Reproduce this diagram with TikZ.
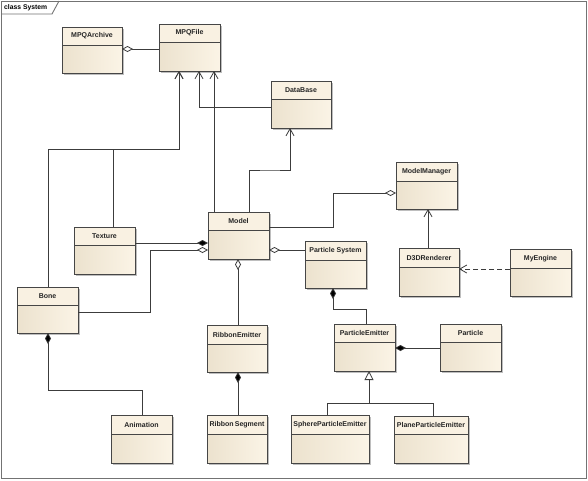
\documentclass[tikz,border=0pt]{standalone}
\usepackage{fontspec}
\setmainfont{Liberation Sans}
\usetikzlibrary{arrows.meta}
\definecolor{boxL}{RGB}{236,226,206}
\definecolor{boxR}{RGB}{251,244,230}
\definecolor{boxT}{RGB}{249,241,226}
\definecolor{edgec}{RGB}{70,70,70}
\definecolor{linec}{RGB}{60,60,60}
\definecolor{shadowc}{RGB}{190,190,190}
\tikzset{
  classbody/.style={shape=rectangle, inner sep=0pt, outer sep=0pt, anchor=north west, left color=boxL, right color=boxR},
  classname/.style={font=\fontsize{7}{8.5}\selectfont\bfseries, text=black!85, inner sep=0pt},
  boxline/.style={draw=edgec, line width=1pt},
  conn/.style={draw=linec, line width=0.8pt},
  openarrow/.style={conn, -{Straight Barb[length=7pt,width=8pt,line width=0.8pt]}},
  aggr/.style={conn, {Diamond[open,fill=white,length=11pt,width=6pt,line width=0.8pt]}-},
  comp/.style={conn, {Diamond[fill=black,length=11pt,width=6pt]}-},
  gener/.style={conn, {Triangle[open,fill=white,length=9pt,width=9pt,line width=0.8pt]}-},
  dep/.style={conn, dashed, dash pattern=on 5pt off 3pt, -{Straight Barb[length=7pt,width=8pt,line width=0.8pt]}},
  frame/.style={draw=black!55, line width=0.9pt}
}
\newcommand\umlclass[7]{%
  \fill[shadowc] (#2+2,#3+2) rectangle (#4+2,#5+2);
  \node[classbody, minimum width=#4pt-#2pt, minimum height=#5pt-#3pt] (#1) at (#2,#3) {};
  \fill[boxT] (#2,#3) rectangle (#4,#6);
  \draw[boxline] (#2,#6) -- (#4,#6);
  \draw[boxline] (#1.north west) rectangle (#1.south east);
  \node[classname] (#1t) at ({(#2+#4)/2},{(#3+#6)/2}) {#7};
}
\begin{document}
\begin{tikzpicture}[x=1pt,y=-1pt]
\useasboundingbox (0,0) rectangle (588,480);
\fill[white] (0,0) rectangle (588,480);
% frame
\draw[frame] (1,1) rectangle (586,478);
\draw[frame] (1,14) -- (52,14) -- (59,1);
\node[font=\fontsize{6.8}{8}\selectfont\bfseries, anchor=west, inner sep=0pt] (title) at (4,7.5) {class System};

% classes
\umlclass{mpqarchive}{62}{27}{122}{73}{45}{MPQArchive}
\umlclass{mpqfile}{159}{24}{220}{71}{42}{MPQFile}
\umlclass{database}{271}{81}{331}{128}{99}{DataBase}
\umlclass{model}{208}{212}{269}{259}{230}{Model}
\umlclass{texture}{74}{227}{135}{274}{245}{Texture}
\umlclass{bone}{17}{287}{78}{333}{305}{Bone}
\umlclass{modelmanager}{396}{162}{457}{209}{181}{ModelManager}
\umlclass{particlesystem}{305}{241}{366}{288}{260}{Particle System}
\umlclass{d3drenderer}{399}{248}{459}{296}{267}{D3DRenderer}
\umlclass{myengine}{510}{249}{571}{296}{268}{MyEngine}
\umlclass{ribbonemitter}{207}{325}{267}{372}{344}{RibbonEmitter}
\umlclass{animation}{111}{415}{172}{463}{434}{Animation}
\umlclass{ribbonsegment}{207}{415}{267}{463}{434}{Ribbon\,Segment}
\umlclass{particleemitter}{334}{324}{395}{371}{342}{ParticleEmitter}
\umlclass{particle}{440}{324}{501}{371}{342}{Particle}
\umlclass{sphere}{291}{415}{369}{463}{434}{SphereParticleEmitter}
\umlclass{plane}{394}{416}{468}{463}{434}{PlaneParticleEmitter}

% helper coordinates
\coordinate (jb) at (179,149);

% connectors
\draw[aggr] (mpqarchive.east |- 0,49) -- (mpqfile.west |- 0,49);
\draw[openarrow] (bone.north -| 48,0) |- (jb) -- (mpqfile.south -| jb);
\draw[openarrow] (texture.north -| 113,0) |- (jb) -- (mpqfile.south -| jb);
\draw[openarrow] (database.west |- 0,107) -| (mpqfile.south -| 199,0);
\draw[openarrow] (model.north -| 214,0) -- (mpqfile.south -| 214,0);
\draw[openarrow] (model.north -| 249,0) |- (270,170) -| (database.south -| 290,0);
\draw[aggr] (modelmanager.west |- 0,193) -| (333,227) -- (model.east |- 0,227);
\draw[comp] (model.west |- 0,243) -- (texture.east |- 0,243);
\draw[aggr] (model.west |- 0,250) -| (150,312) -- (bone.east |- 0,312);
\draw[aggr] (model.east |- 0,250) -- (particlesystem.west |- 0,250);
\draw[aggr] (model.south -| 238,0) -- (ribbonemitter.north -| 238,0);
\draw[comp] (ribbonemitter.south -| 238,0) -- (ribbonsegment.north -| 238,0);
\draw[comp] (bone.south -| 48,0) |- (142,390) -- (animation.north -| 142,0);
\draw[openarrow] (d3drenderer.north -| 428,0) -- (modelmanager.south -| 428,0);
\draw[dep] (myengine.west |- 0,269) -- (d3drenderer.east |- 0,269);
\draw[comp] (particlesystem.south -| 333,0) |- (366,309) -- (particleemitter.north -| 366,0);
\draw[comp] (particleemitter.east |- 0,348) -- (particle.west |- 0,348);
\draw[gener] (particleemitter.south -| 369,0) -- (369,403) -| (sphere.north -| 327,0);
\draw[conn] (369,403) -| (plane.north -| 433,0);
\end{tikzpicture}
\end{document}
